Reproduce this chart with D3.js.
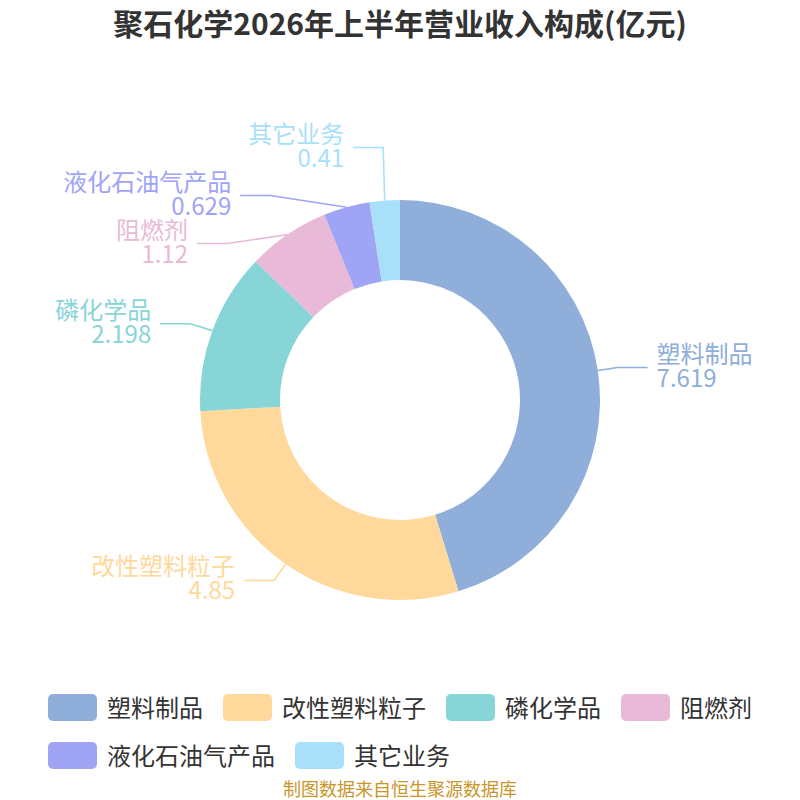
<!DOCTYPE html>
<html><head><meta charset="utf-8">
<script src="https://cdn.jsdelivr.net/npm/d3@7/dist/d3.min.js"></script>
<style>
html,body{margin:0;padding:0;background:#fff;}
svg{display:block;font-family:"Noto Sans CJK SC","Noto Sans",sans-serif;}
</style></head>
<body>
<svg id="chart" width="800" height="800"></svg>
<script>
const title = "聚石化学2026年上半年营业收入构成(亿元)";
const source = "制图数据来自恒生聚源数据库";
const categories = ["塑料制品","改性塑料粒子","磷化学品","阻燃剂","液化石油气产品","其它业务"];
const values = [7.619, 4.85, 2.198, 1.12, 0.629, 0.41];
const colors = ["#8FAEDA","#FFD99B","#88D5D8","#E8BAD8","#A0A4F5","#A8E0FA"];

const W = 800, H = 800, cx = 400, cy = 400;
const rOuter = 200, rInner = 120, len1 = 20, len2 = 30, gap = 9, labelH = 48;
const svg = d3.select("#chart");

svg.append("text").attr("x", cx).attr("y", 35).attr("text-anchor","middle")
  .attr("font-size", 30).attr("font-weight","bold").attr("fill","#333").text(title);

const data = categories.map((c,i)=>({name:c, value:values[i], color:colors[i]}));
const pie = d3.pie().sort(null).value(d=>d.value);
const arcs = pie(data);
const arc = d3.arc().innerRadius(rInner).outerRadius(rOuter);

const g = svg.append("g").attr("transform",`translate(${cx},${cy})`);
g.selectAll("path.slice").data(arcs).join("path").attr("class","slice")
  .attr("d", arc).attr("fill", d=>d.data.color);

// label layout
const rA = rOuter + len1;
const items = arcs.map(a=>{
  const mid = (a.startAngle + a.endAngle)/2;
  const dx = Math.sin(mid), dy = -Math.cos(mid);
  return {a, mid, side: dx >= 0 ? 1 : -1,
    p0: [cx + rOuter*dx, cy + rOuter*dy],
    nx: cx + rA*dx, ny: cy + rA*dy};
});
function relax(list){
  list.sort((p,q)=>p.ny-q.ny);
  let clusters = list.map(it=>({items:[it], mean:it.ny}));
  const top = c => c.mean - (c.items.length-1)*labelH/2;
  let merged = true, moved = false;
  while(merged){
    merged = false;
    for(let i=0;i<clusters.length-1;i++){
      const a = clusters[i], b = clusters[i+1];
      const aBottom = top(a) + (a.items.length-1)*labelH;
      if (top(b) - aBottom < labelH){
        const its = a.items.concat(b.items);
        clusters.splice(i,2,{items:its, mean:d3.mean(its,d=>d.ny)});
        merged = true; moved = true; break;
      }
    }
  }
  clusters.forEach(c=>c.items.forEach((it,k)=>{ it.y = top(c)+k*labelH; it.x = it.nx; }));
  if (moved){
    [list.filter(it=>it.y<=cy), list.filter(it=>it.y>cy)].forEach(semi=>{
      if(!semi.length) return;
      let ref = semi.reduce((m,it)=>Math.abs(it.y-cy)>Math.abs(m.y-cy)?it:m, semi[0]);
      const ddy = Math.abs(ref.y-cy), ddx = ref.nx-cx;
      const rB = Math.abs(ddx) < rA ? Math.sqrt(ddy*ddy/(1-ddx*ddx/rA/rA)) : rA;
      semi.forEach(it=>{
        const dyy = Math.abs(it.y-cy);
        const t = Math.max(0, 1 - dyy*dyy/(rB*rB));
        it.x = cx + it.side*rA*Math.sqrt(t);
      });
    });
  }
}
relax(items.filter(d=>d.side<0));
relax(items.filter(d=>d.side>0));

const lg = svg.append("g");
items.forEach(it=>{
  const c = it.a.data.color;
  const endX = it.x + it.side*len2;
  lg.append("polyline")
    .attr("points", [[it.p0[0],it.p0[1]],[it.x,it.y],[endX,it.y]].map(p=>p.join(",")).join(" "))
    .attr("fill","none").attr("stroke", c).attr("stroke-width", 1.6);
  const tx = endX + it.side*gap;
  const t = lg.append("text").attr("font-size",24).attr("fill",c)
    .attr("text-anchor", it.side>0 ? "start" : "end");
  t.append("tspan").attr("x",tx).attr("y",it.y-5).text(it.a.data.name);
  t.append("tspan").attr("x",tx).attr("y",it.y+19).text(String(it.a.data.value));
});

// legend
const boxW = 49, boxH = 27, boxGap = 10, itemGap = 20, rowH = 48, maxW = 720;
const leg = svg.append("g");
const entries = data.map(d=>{
  const gg = leg.append("g");
  gg.append("rect").attr("width",boxW).attr("height",boxH).attr("rx",5).attr("ry",5).attr("fill",d.color);
  const tt = gg.append("text").attr("x",boxW+boxGap).attr("y",boxH/2+9)
    .attr("font-size",24).attr("fill","#333").text(d.name);
  const w = boxW + boxGap + tt.node().getComputedTextLength();
  return {gg, w};
});
let rows = [[]], rowW = [0];
entries.forEach(e=>{
  let r = rows.length-1;
  const add = (rows[r].length ? itemGap : 0) + e.w;
  if (rowW[r] + add > maxW && rows[r].length){ rows.push([]); rowW.push(0); r++; }
  rowW[r] += (rows[r].length ? itemGap : 0) + e.w;
  rows[r].push(e);
});
const legW = d3.max(rowW);
const x0 = cx - legW/2, y0 = 694;
rows.forEach((row,ri)=>{
  let x = x0;
  row.forEach(e=>{
    e.gg.attr("transform",`translate(${x},${y0+ri*rowH})`);
    x += e.w + itemGap;
  });
});

svg.append("text").attr("x",cx).attr("y",796).attr("text-anchor","middle")
  .attr("font-size",18).attr("fill","#C9962A").text(source);
</script>
</body></html>
